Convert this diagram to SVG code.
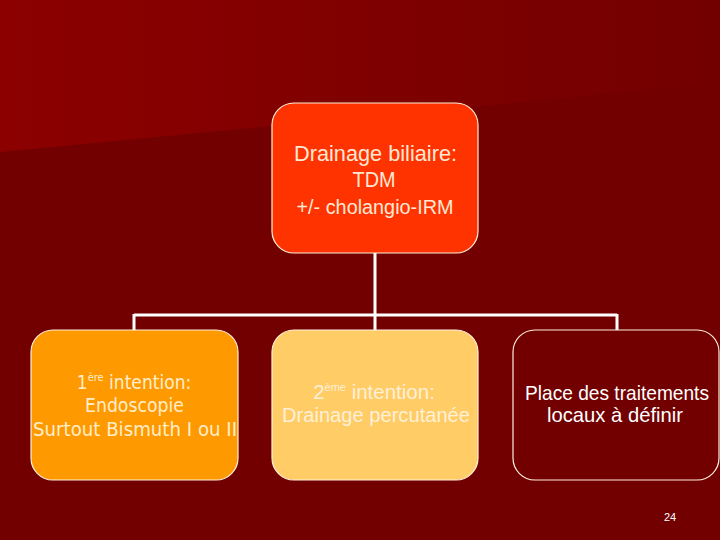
<svg xmlns="http://www.w3.org/2000/svg" width="720" height="540" viewBox="0 0 720 540">
<defs>
<linearGradient id="bgTop" x1="0" y1="0" x2="1" y2="0">
<stop offset="0" stop-color="#8c0000"/>
<stop offset="1" stop-color="#730000"/>
</linearGradient>
<style>
.box{stroke:#fff0dc;stroke-width:1.2}
.conn{stroke:#ffffff;stroke-width:3;fill:none}
.t{font-family:"Liberation Sans",Arial,sans-serif;text-anchor:middle}
.v{font-family:"DejaVu Sans Condensed","DejaVu Sans",Tahoma,sans-serif;text-anchor:middle}
</style>
</defs>
<rect width="720" height="540" fill="#720000"/>
<polygon points="0,0 720,0 720,83 0,152" fill="url(#bgTop)"/>
<g id="connectors">
<path class="conn" d="M375,253 V315 M134,315 H617 M134,314 V330 M375,315 V330 M617,314 V330"/>
</g>
<g id="node-top">
<rect class="box" x="272" y="103" width="206" height="150" rx="22" fill="#ff3300"/>
<text class="t" fill="#ffe8d4" font-size="22" x="375.5" y="161" textLength="163" lengthAdjust="spacingAndGlyphs">Drainage biliaire:</text>
<text class="t" fill="#ffe8d4" font-size="22" x="374" y="187" textLength="43" lengthAdjust="spacingAndGlyphs">TDM</text>
<text class="t" fill="#ffe8d4" font-size="20" x="375" y="214" textLength="157" lengthAdjust="spacingAndGlyphs">+/- cholangio-IRM</text>
</g>
<g id="node-left">
<rect class="box" x="31" y="330" width="207" height="150" rx="22" fill="#ff9900"/>
<text class="v" fill="#ffeecc" font-size="19" x="134" y="389">1<tspan font-size="11" dy="-8">ère</tspan><tspan dy="8"> intention:</tspan></text>
<text class="v" fill="#ffeecc" font-size="19" x="134.5" y="412" textLength="99" lengthAdjust="spacingAndGlyphs">Endoscopie</text>
<text class="v" fill="#ffeecc" font-size="19" x="135" y="436" textLength="204" lengthAdjust="spacingAndGlyphs">Surtout Bismuth I ou II</text>
</g>
<g id="node-middle">
<rect class="box" x="272" y="330" width="206" height="150" rx="22" fill="#ffcc66"/>
<text class="t" fill="#fff0d8" font-size="20.5" x="374" y="399">2<tspan font-size="11" dy="-8">ème</tspan><tspan dy="8"> intention:</tspan></text>
<text class="t" fill="#fff0d8" font-size="20.5" x="376" y="422" textLength="188" lengthAdjust="spacingAndGlyphs">Drainage percutanée</text>
</g>
<g id="node-right">
<rect class="box" x="513" y="330" width="206" height="150" rx="22" fill="none"/>
<text class="t" fill="#ffffff" font-size="21" x="617" y="400" textLength="184" lengthAdjust="spacingAndGlyphs">Place des traitements</text>
<text class="t" fill="#ffffff" font-size="21" x="615" y="422" textLength="136" lengthAdjust="spacingAndGlyphs">locaux à définir</text>
</g>
<text class="t" fill="#ffffff" font-size="11" x="670" y="521">24</text>
</svg>
